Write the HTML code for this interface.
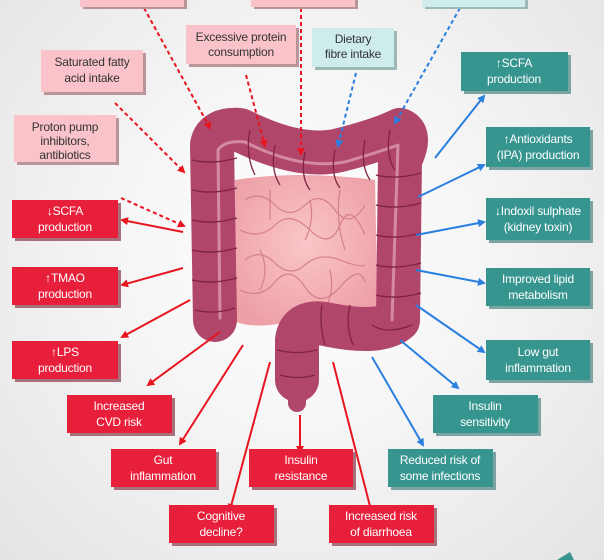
<!DOCTYPE html>
<html><head><meta charset="utf-8"><style>
html,body{margin:0;padding:0;}
body{width:604px;height:560px;overflow:hidden;background:radial-gradient(ellipse at 50% 45%,#ffffff 0%,#f6f6f6 40%,#e4e4e4 100%);font-family:"Liberation Sans",sans-serif;}
svg{position:absolute;left:0;top:0}
text{font-family:"Liberation Sans",sans-serif;font-size:12px;letter-spacing:-0.2px;text-anchor:middle}
</style></head><body>
<svg width="604" height="560" viewBox="0 0 604 560">
<defs>
<marker id="r" markerWidth="8" markerHeight="8" refX="6" refY="4" orient="auto" markerUnits="userSpaceOnUse"><path d="M0,0 L8,4 L0,8 Z" fill="#e8141f"/></marker>
<marker id="b" markerWidth="8" markerHeight="8" refX="6" refY="4" orient="auto" markerUnits="userSpaceOnUse"><path d="M0,0 L8,4 L0,8 Z" fill="#2a7fe0"/></marker>
<radialGradient id="si" cx="50%" cy="45%" r="60%"><stop offset="0" stop-color="#f9c6c8"/><stop offset="1" stop-color="#eea0a8"/></radialGradient>
</defs>

<path d="M235,180 Q300,170 375,180 L378,320 Q330,330 290,322 Q250,330 232,320 Z" fill="url(#si)"/>
<g stroke="#d57f8c" stroke-width="1.2" fill="none">
<path d="M245,200 q15,-10 30,5 t30,0 t30,5 t30,-5"/>
<path d="M240,230 q20,10 35,-5 t35,5 t30,-5 t25,10"/>
<path d="M245,260 q15,-12 30,3 t30,2 t35,-5 t25,5"/>
<path d="M240,290 q20,10 35,-8 t30,5 t35,0 t25,-5"/>
<path d="M270,190 v30 M310,200 q5,20 -5,40 M340,190 q-5,30 5,60 M260,250 q10,20 0,40 M330,270 q5,20 -5,40"/>
</g>

<g fill="none" stroke-linecap="round" stroke-linejoin="round">
<path d="M215,320 L212,145 Q215,128 240,130 Q300,160 340,150 Q380,140 400,130 Q412,135 400,160 L398,320 Q380,335 330,325 Q300,318 297,340 L297,380" stroke="#b0466a" stroke-width="44"/>
<path d="M220,318 L218,150 Q225,140 245,142 Q300,170 345,162 Q385,150 398,145 L392,320" stroke="#d48aa0" stroke-width="3"/>
<path d="M297,375 L297,403" stroke="#b0466a" stroke-width="18"/>
</g>
<g fill="none" stroke="#7e2440" stroke-width="1.3">
<path d="M192,160 q20,5 45,-2 M192,190 q20,5 45,-2 M192,220 q20,5 45,-2 M192,250 q20,5 45,-2 M192,280 q20,5 45,-2 M195,310 q20,5 40,-2"/>
<path d="M250,130 q-5,25 5,45 M275,145 q-5,25 5,40 M305,152 q-5,25 5,38 M335,150 q-5,25 5,38 M365,140 q-5,25 5,40 M390,130 q-5,25 5,40"/>
<path d="M376,175 q20,5 45,-2 M376,205 q20,5 45,-2 M376,235 q20,5 45,-2 M376,265 q20,5 45,-2 M376,295 q20,5 45,-2 M372,325 q15,10 40,0"/>
<path d="M350,305 q-5,20 3,40 M322,305 q-3,20 3,40 M277,350 q20,5 40,0 M280,375 q18,5 35,0"/>
</g>

<g stroke-width="2" stroke-dasharray="4,3" fill="none">
<line x1="144" y1="8" x2="210" y2="128" stroke="#e8141f" marker-end="url(#r)"/>
<line x1="115" y1="103" x2="184" y2="172" stroke="#e8141f" marker-end="url(#r)"/>
<line x1="121" y1="198" x2="184" y2="226" stroke="#e8141f" marker-end="url(#r)"/>
<line x1="246" y1="75" x2="265" y2="146" stroke="#e8141f" marker-end="url(#r)"/>
<line x1="301" y1="8" x2="301" y2="154" stroke="#e8141f" marker-end="url(#r)"/>
<line x1="356" y1="73" x2="338" y2="146" stroke="#2a7fe0" marker-end="url(#b)"/>
<line x1="460" y1="8" x2="395" y2="123" stroke="#2a7fe0" marker-end="url(#b)"/>
</g>
<g stroke-width="2" fill="none">
<line x1="435" y1="158" x2="484" y2="96" stroke="#2a7fe0" marker-end="url(#b)"/>
<line x1="418" y1="197" x2="484" y2="165" stroke="#2a7fe0" marker-end="url(#b)"/>
<line x1="416" y1="235" x2="484" y2="222" stroke="#2a7fe0" marker-end="url(#b)"/>
<line x1="416" y1="270" x2="484" y2="283" stroke="#2a7fe0" marker-end="url(#b)"/>
<line x1="416" y1="305" x2="484" y2="352" stroke="#2a7fe0" marker-end="url(#b)"/>
<line x1="400" y1="340" x2="458" y2="388" stroke="#2a7fe0" marker-end="url(#b)"/>
<line x1="372" y1="357" x2="423" y2="445" stroke="#2a7fe0" marker-end="url(#b)"/>
<line x1="183" y1="232" x2="122" y2="220" stroke="#e8141f" marker-end="url(#r)"/>
<line x1="183" y1="268" x2="122" y2="285" stroke="#e8141f" marker-end="url(#r)"/>
<line x1="190" y1="300" x2="122" y2="337" stroke="#e8141f" marker-end="url(#r)"/>
<line x1="220" y1="332" x2="148" y2="385" stroke="#e8141f" marker-end="url(#r)"/>
<line x1="243" y1="345" x2="180" y2="444" stroke="#e8141f" marker-end="url(#r)"/>
<line x1="270" y1="362" x2="230" y2="510" stroke="#e8141f" marker-end="url(#r)"/>
<line x1="300" y1="415" x2="300" y2="452" stroke="#e8141f" marker-end="url(#r)"/>
<line x1="333" y1="362" x2="372" y2="514" stroke="#e8141f" marker-end="url(#r)"/>
</g>

<g>
<g fill="#b9959a"><rect x="83" y="-5" width="104" height="14"/><rect x="254" y="-5" width="104" height="14"/><rect x="189" y="28" width="110" height="39"/><rect x="44" y="53" width="102" height="42"/><rect x="17" y="118" width="102" height="47"/></g>
<g fill="#f9c3c9"><rect x="80" y="-8" width="104" height="15"/><rect x="251" y="-8" width="104" height="15"/><rect x="186" y="25" width="110" height="39"/><rect x="41" y="50" width="102" height="42"/><rect x="14" y="115" width="102" height="47"/></g>
<g fill="#9fb8b6"><rect x="425" y="-5" width="103" height="14"/><rect x="315" y="31" width="82" height="39"/></g>
<g fill="#cdeceb"><rect x="422" y="-8" width="103" height="15"/><rect x="312" y="28" width="82" height="39"/></g>
<g fill="#a8707a"><rect x="15" y="203" width="106" height="38"/><rect x="15" y="270" width="106" height="38"/><rect x="15" y="344" width="106" height="38"/><rect x="70" y="398" width="105" height="38"/><rect x="114" y="452" width="105" height="38"/><rect x="252" y="452" width="104" height="38"/><rect x="172" y="508" width="105" height="38"/><rect x="332" y="508" width="105" height="38"/></g>
<g fill="#e81f3b"><rect x="12" y="200" width="106" height="38"/><rect x="12" y="267" width="106" height="38"/><rect x="12" y="341" width="106" height="38"/><rect x="67" y="395" width="105" height="38"/><rect x="111" y="449" width="105" height="38"/><rect x="249" y="449" width="104" height="38"/><rect x="169" y="505" width="105" height="38"/><rect x="329" y="505" width="105" height="38"/></g>
<g fill="#7aa3a1"><rect x="464" y="55" width="107" height="39"/><rect x="489" y="130" width="104" height="40"/><rect x="489" y="201" width="104" height="42"/><rect x="489" y="271" width="104" height="38"/><rect x="489" y="343" width="104" height="40"/><rect x="436" y="398" width="105" height="38"/><rect x="391" y="452" width="105" height="38"/></g>
<g fill="#36958f"><rect x="461" y="52" width="107" height="39"/><rect x="486" y="127" width="104" height="40"/><rect x="486" y="198" width="104" height="42"/><rect x="486" y="268" width="104" height="38"/><rect x="486" y="340" width="104" height="40"/><rect x="433" y="395" width="105" height="38"/><rect x="388" y="449" width="105" height="38"/></g>
<path d="M557,560 L570,552 L574,560 Z" fill="#36958f"/>
</g>

<g fill="#333">
<text x="241" y="41">Excessive protein</text><text x="241" y="56">consumption</text>
<text x="353" y="43">Dietary</text><text x="353" y="58">fibre intake</text>
<text x="92" y="66">Saturated fatty</text><text x="92" y="82">acid intake</text>
<text x="65" y="131">Proton pump</text><text x="65" y="145">inhibitors,</text><text x="65" y="159">antibiotics</text>
</g>
<g fill="#fff">
<text x="65" y="215">↓SCFA</text><text x="65" y="231">production</text>
<text x="65" y="282">↑TMAO</text><text x="65" y="298">production</text>
<text x="65" y="356">↑LPS</text><text x="65" y="372">production</text>
<text x="119" y="410">Increased</text><text x="119" y="426">CVD risk</text>
<text x="163" y="464">Gut</text><text x="163" y="480">inflammation</text>
<text x="301" y="464">Insulin</text><text x="301" y="480">resistance</text>
<text x="221" y="520">Cognitive</text><text x="221" y="536">decline?</text>
<text x="381" y="520">Increased risk</text><text x="381" y="536">of diarrhoea</text>
<text x="514" y="67">↑SCFA</text><text x="514" y="83">production</text>
<text x="538" y="143">↑Antioxidants</text><text x="538" y="159">(IPA) production</text>
<text x="538" y="215">↓Indoxil sulphate</text><text x="538" y="231">(kidney toxin)</text>
<text x="538" y="283">Improved lipid</text><text x="538" y="299">metabolism</text>
<text x="538" y="356">Low gut</text><text x="538" y="372">inflammation</text>
<text x="485" y="410">Insulin</text><text x="485" y="426">sensitivity</text>
<text x="440" y="464">Reduced risk of</text><text x="440" y="480">some infections</text>
</g>
</svg>
</body></html>
